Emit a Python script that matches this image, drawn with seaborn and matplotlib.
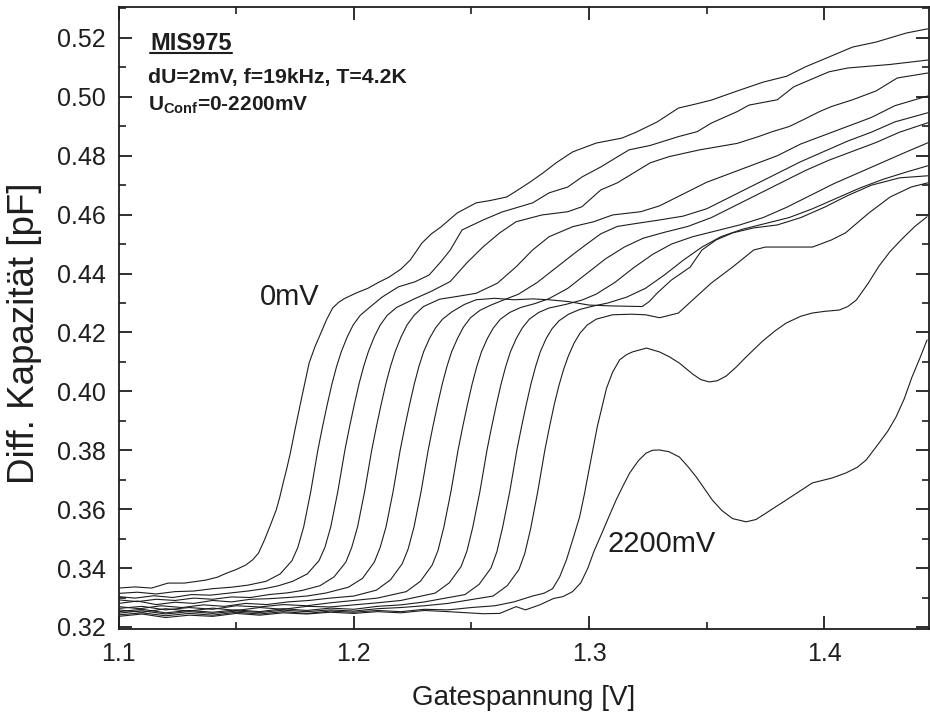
import matplotlib
matplotlib.use("Agg")
import matplotlib.pyplot as plt
import seaborn as sns
import pandas as pd
from matplotlib.lines import Line2D
from matplotlib.ticker import MultipleLocator

# ---------------- data ----------------
x_0mV = [1.100, 1.107, 1.114, 1.121, 1.128, 1.137, 1.142, 1.146, 1.150, 1.154, 1.157, 1.1595, 1.162,
         1.1645, 1.167, 1.1685, 1.170, 1.1715, 1.173, 1.175, 1.177, 1.179, 1.181, 1.1835, 1.186,
         1.1885, 1.191, 1.1935, 1.196, 1.201, 1.206, 1.210, 1.215, 1.220, 1.224, 1.229, 1.233, 1.237,
         1.244, 1.252, 1.258, 1.265, 1.270, 1.275, 1.281, 1.286, 1.293, 1.303, 1.314, 1.320, 1.329,
         1.338, 1.345, 1.352, 1.363, 1.374, 1.384, 1.392, 1.401, 1.412, 1.422, 1.435, 1.444]
y_0mV = [0.3332, 0.3336, 0.3332, 0.3349, 0.3349, 0.3359, 0.3369, 0.3383, 0.3395, 0.3410, 0.3428,
         0.3451, 0.3495, 0.3545, 0.3597, 0.3640, 0.3690, 0.3738, 0.3790, 0.3870, 0.3947, 0.4022,
         0.4096, 0.4152, 0.4198, 0.4245, 0.4283, 0.4302, 0.4315, 0.4334, 0.4350, 0.4368, 0.4388,
         0.4415, 0.4446, 0.4504, 0.4535, 0.4558, 0.4606, 0.4640, 0.4648, 0.4660, 0.4685, 0.4711,
         0.4745, 0.4776, 0.4813, 0.4843, 0.4860, 0.4880, 0.4915, 0.4962, 0.4975, 0.4989, 0.5020,
         0.5050, 0.5070, 0.5102, 0.5132, 0.5169, 0.5186, 0.5217, 0.5231]

x_200mV = [1.100, 1.108, 1.116, 1.124, 1.132, 1.140, 1.148, 1.155, 1.1627, 1.1687, 1.1737, 1.1762,
           1.1787, 1.1817, 1.1847, 1.1867, 1.1887, 1.1907, 1.1927, 1.1947, 1.1972, 1.1997, 1.2027,
           1.2067, 1.212, 1.219, 1.226, 1.232, 1.237, 1.241, 1.246, 1.255, 1.263, 1.276, 1.283,
           1.291, 1.297, 1.305, 1.312, 1.317, 1.326, 1.338, 1.346, 1.352, 1.363, 1.368, 1.380, 1.387,
           1.394, 1.402, 1.410, 1.428, 1.444]
y_200mV = [0.3314, 0.3318, 0.3312, 0.3320, 0.3322, 0.3330, 0.3335, 0.3342, 0.3355, 0.3380, 0.3425,
           0.3470, 0.3540, 0.3660, 0.3800, 0.3880, 0.3955, 0.4025, 0.4085, 0.4135, 0.4185, 0.4225,
           0.4258, 0.4285, 0.4320, 0.4355, 0.4372, 0.4395, 0.4440, 0.4480, 0.4548, 0.4582, 0.4609,
           0.4640, 0.4674, 0.4694, 0.4728, 0.4762, 0.4796, 0.4820, 0.4835, 0.4865, 0.4882, 0.4911,
           0.4950, 0.4972, 0.4990, 0.5034, 0.5058, 0.5085, 0.5098, 0.5110, 0.5125]

x_400mV = [1.100, 1.107, 1.115, 1.123, 1.131, 1.139, 1.147, 1.155, 1.162, 1.168, 1.174, 1.1802,
           1.1852, 1.1877, 1.1902, 1.1932, 1.1962, 1.1982, 1.2002, 1.2022, 1.2042, 1.2062, 1.2087,
           1.2112, 1.2142, 1.2182, 1.226, 1.233, 1.241, 1.248, 1.255, 1.262, 1.269, 1.280, 1.291,
           1.297, 1.305, 1.312, 1.319, 1.326, 1.334, 1.347, 1.355, 1.363, 1.372, 1.378, 1.385,
           1.391, 1.398, 1.403, 1.412, 1.422, 1.431, 1.444]
y_400mV = [0.3303, 0.3298, 0.3306, 0.3300, 0.3310, 0.3308, 0.3315, 0.3322, 0.3330, 0.3340, 0.3355,
           0.3380, 0.3425, 0.3470, 0.3540, 0.3660, 0.3800, 0.3880, 0.3955, 0.4025, 0.4085, 0.4135,
           0.4185, 0.4225, 0.4258, 0.4285, 0.4315, 0.4340, 0.4373, 0.4436, 0.4491, 0.4538, 0.4576,
           0.4599, 0.4610, 0.4627, 0.4684, 0.4708, 0.4742, 0.4776, 0.4797, 0.4820, 0.4831, 0.4842,
           0.4865, 0.4882, 0.4899, 0.4922, 0.4950, 0.4967, 0.4990, 0.5020, 0.5064, 0.5081]

x_600mV = [1.100, 1.108, 1.116, 1.124, 1.132, 1.140, 1.148, 1.156, 1.164, 1.172, 1.178, 1.1856,
           1.1916, 1.1966, 1.1991, 1.2016, 1.2046, 1.2076, 1.2096, 1.2116, 1.2136, 1.2156, 1.2176,
           1.2201, 1.2226, 1.2256, 1.2296, 1.2365, 1.2437, 1.252, 1.261, 1.269, 1.276, 1.283, 1.293,
           1.302, 1.310, 1.322, 1.330, 1.340, 1.350, 1.360, 1.370, 1.380, 1.390, 1.400, 1.410,
           1.420, 1.430, 1.444]
y_600mV = [0.3292, 0.3286, 0.3294, 0.3290, 0.3298, 0.3294, 0.3302, 0.3300, 0.3310, 0.3316, 0.3324,
           0.3340, 0.3370, 0.3420, 0.3470, 0.3540, 0.3660, 0.3800, 0.3880, 0.3955, 0.4025, 0.4085,
           0.4135, 0.4185, 0.4225, 0.4258, 0.4288, 0.4313, 0.4322, 0.4333, 0.4367, 0.4423, 0.4480,
           0.4525, 0.4559, 0.4576, 0.4599, 0.4610, 0.4630, 0.4670, 0.4710, 0.4740, 0.4770, 0.4800,
           0.4840, 0.4870, 0.4900, 0.4930, 0.4970, 0.5003]

x_800mV = [1.100, 1.108, 1.116, 1.124, 1.132, 1.140, 1.148, 1.156, 1.164, 1.172, 1.180, 1.188,
           1.1977, 1.2037, 1.2087, 1.2112, 1.2137, 1.2167, 1.2197, 1.2217, 1.2237, 1.2257, 1.2277,
           1.2297, 1.2322, 1.2347, 1.2377, 1.2417, 1.247, 1.252, 1.260, 1.268, 1.276, 1.283, 1.291,
           1.300, 1.310, 1.3226, 1.3256, 1.329, 1.335, 1.343, 1.348, 1.354, 1.361, 1.370, 1.380,
           1.390, 1.400, 1.410, 1.420, 1.432, 1.444]
y_800mV = [0.3280, 0.3288, 0.3276, 0.3284, 0.3280, 0.3290, 0.3285, 0.3294, 0.3296, 0.3300, 0.3305,
           0.3315, 0.3335, 0.3365, 0.3420, 0.3470, 0.3540, 0.3660, 0.3800, 0.3880, 0.3955, 0.4025,
           0.4085, 0.4135, 0.4180, 0.4215, 0.4245, 0.4270, 0.4295, 0.4311, 0.4316, 0.4311, 0.4314,
           0.4311, 0.4305, 0.4293, 0.4290, 0.4288, 0.4305, 0.4334, 0.4378, 0.4422, 0.4480, 0.4514,
           0.4538, 0.4555, 0.4565, 0.4590, 0.4625, 0.4665, 0.4700, 0.4725, 0.4732]

x_1000mV = [1.100, 1.109, 1.118, 1.127, 1.136, 1.145, 1.154, 1.163, 1.172, 1.181, 1.190, 1.200,
            1.2096, 1.2156, 1.2206, 1.2231, 1.2256, 1.2286, 1.2316, 1.2336, 1.2356, 1.2376, 1.2396,
            1.2416, 1.2441, 1.2466, 1.2496, 1.2536, 1.258, 1.262, 1.270, 1.278, 1.286, 1.294, 1.299,
            1.305, 1.312, 1.320, 1.330, 1.340, 1.350, 1.360, 1.370, 1.380, 1.390, 1.400, 1.410,
            1.420, 1.430, 1.444]
y_1000mV = [0.3269, 0.3262, 0.3272, 0.3266, 0.3275, 0.3270, 0.3280, 0.3276, 0.3285, 0.3290, 0.3298,
            0.3305, 0.3325, 0.3360, 0.3415, 0.3465, 0.3540, 0.3660, 0.3800, 0.3880, 0.3955, 0.4025,
            0.4085, 0.4135, 0.4180, 0.4218, 0.4250, 0.4275, 0.4292, 0.4305, 0.4330, 0.4370, 0.4420,
            0.4470, 0.4500, 0.4535, 0.4560, 0.4570, 0.4582, 0.4595, 0.4620, 0.4660, 0.4700, 0.4740,
            0.4780, 0.4815, 0.4850, 0.4880, 0.4915, 0.4946]

x_1200mV = [1.100, 1.110, 1.120, 1.130, 1.140, 1.150, 1.160, 1.170, 1.180, 1.190, 1.200, 1.210,
            1.2223, 1.2283, 1.2333, 1.2358, 1.2383, 1.2413, 1.2443, 1.2463, 1.2483, 1.2503, 1.2523,
            1.2543, 1.2568, 1.2593, 1.2623, 1.2663, 1.271, 1.277, 1.283, 1.291, 1.299, 1.307, 1.315,
            1.323, 1.332, 1.342, 1.352, 1.362, 1.372, 1.382, 1.392, 1.402, 1.412, 1.422, 1.432, 1.444]
y_1200mV = [0.3263, 0.3270, 0.3258, 0.3266, 0.3260, 0.3272, 0.3268, 0.3276, 0.3272, 0.3282, 0.3290,
            0.3298, 0.3320, 0.3355, 0.3410, 0.3460, 0.3540, 0.3660, 0.3800, 0.3880, 0.3955, 0.4025,
            0.4085, 0.4135, 0.4180, 0.4215, 0.4245, 0.4268, 0.4285, 0.4298, 0.4315, 0.4350, 0.4400,
            0.4450, 0.4490, 0.4520, 0.4540, 0.4560, 0.4590, 0.4630, 0.4670, 0.4710, 0.4750, 0.4785,
            0.4815, 0.4845, 0.4880, 0.4912]

x_1400mV = [1.100, 1.110, 1.120, 1.130, 1.140, 1.150, 1.160, 1.170, 1.180, 1.190, 1.200, 1.210,
            1.220, 1.2346, 1.2406, 1.2456, 1.2481, 1.2506, 1.2536, 1.2566, 1.2586, 1.2606, 1.2626,
            1.2646, 1.2666, 1.2691, 1.2716, 1.2746, 1.2786, 1.283, 1.290, 1.297, 1.303, 1.311, 1.319,
            1.327, 1.335, 1.344, 1.354, 1.364, 1.374, 1.384, 1.394, 1.404, 1.414, 1.424, 1.434, 1.444]
y_1400mV = [0.3258, 0.3250, 0.3262, 0.3254, 0.3264, 0.3256, 0.3266, 0.3260, 0.3270, 0.3268, 0.3275,
            0.3282, 0.3290, 0.3315, 0.3350, 0.3405, 0.3458, 0.3540, 0.3660, 0.3800, 0.3880, 0.3955,
            0.4025, 0.4085, 0.4135, 0.4180, 0.4215, 0.4245, 0.4268, 0.4283, 0.4295, 0.4310, 0.4330,
            0.4370, 0.4420, 0.4465, 0.4500, 0.4525, 0.4545, 0.4565, 0.4590, 0.4625, 0.4665, 0.4705,
            0.4740, 0.4775, 0.4810, 0.4844]

x_1600mV = [1.100, 1.110, 1.120, 1.130, 1.140, 1.150, 1.160, 1.170, 1.180, 1.190, 1.200, 1.210,
            1.220, 1.230, 1.2473, 1.2533, 1.2583, 1.2608, 1.2633, 1.2663, 1.2693, 1.2713, 1.2733,
            1.2753, 1.2773, 1.2793, 1.2818, 1.2843, 1.2873, 1.2913, 1.296, 1.302, 1.308, 1.316, 1.324,
            1.332, 1.340, 1.348, 1.356, 1.365, 1.375, 1.385, 1.395, 1.405, 1.415, 1.425, 1.435, 1.444]
y_1600mV = [0.3252, 0.3260, 0.3248, 0.3256, 0.3250, 0.3258, 0.3252, 0.3262, 0.3256, 0.3264, 0.3260,
            0.3270, 0.3275, 0.3285, 0.3310, 0.3345, 0.3400, 0.3455, 0.3540, 0.3660, 0.3800, 0.3880,
            0.3955, 0.4025, 0.4085, 0.4135, 0.4180, 0.4213, 0.4240, 0.4262, 0.4278, 0.4290, 0.4300,
            0.4320, 0.4350, 0.4395, 0.4445, 0.4490, 0.4525, 0.4550, 0.4570, 0.4590, 0.4620, 0.4655,
            0.4690, 0.4720, 0.4745, 0.4766]

x_1800mV = [1.100, 1.110, 1.120, 1.130, 1.140, 1.150, 1.160, 1.170, 1.180, 1.190, 1.200, 1.210,
            1.220, 1.230, 1.240, 1.2592, 1.2652, 1.2702, 1.2727, 1.2752, 1.2782, 1.2812, 1.2832,
            1.2852, 1.2872, 1.2892, 1.2912, 1.2937, 1.2962, 1.2992, 1.303, 1.310, 1.318, 1.324,
            1.330, 1.338, 1.344, 1.352, 1.361, 1.370, 1.375, 1.385, 1.395, 1.403, 1.409, 1.419,
            1.428, 1.437, 1.444]
y_1800mV = [0.3247, 0.3255, 0.3244, 0.3252, 0.3246, 0.3254, 0.3249, 0.3257, 0.3252, 0.3258, 0.3254,
            0.3262, 0.3266, 0.3272, 0.3280, 0.3305, 0.3340, 0.3395, 0.3450, 0.3535, 0.3660, 0.3800,
            0.3880, 0.3955, 0.4020, 0.4075, 0.4120, 0.4165, 0.4198, 0.4225, 0.4245, 0.4260, 0.4262,
            0.4260, 0.4250, 0.4266, 0.4310, 0.4368, 0.4422, 0.4480, 0.4490, 0.4490, 0.4490, 0.4514,
            0.4538, 0.4606, 0.4660, 0.4694, 0.4708]

x_2000mV = [1.100, 1.110, 1.120, 1.130, 1.140, 1.150, 1.160, 1.170, 1.180, 1.190, 1.200, 1.210,
            1.220, 1.230, 1.240, 1.250, 1.260, 1.268, 1.276, 1.281, 1.2845, 1.2875, 1.2904, 1.293,
            1.296, 1.298, 1.3002, 1.3035, 1.3074, 1.310, 1.313, 1.316, 1.3185, 1.3244, 1.3299, 1.334,
            1.3384, 1.344, 1.3475, 1.3511, 1.3545, 1.3583, 1.3625, 1.3668, 1.3737, 1.379, 1.3838,
            1.390, 1.3949, 1.4005, 1.4063, 1.410, 1.4136, 1.4185, 1.4233, 1.428, 1.4331, 1.4385,
            1.4437]
y_2000mV = [0.3241, 0.3248, 0.3238, 0.3246, 0.3240, 0.3250, 0.3244, 0.3252, 0.3246, 0.3254, 0.3250,
            0.3256, 0.3252, 0.3260, 0.3258, 0.3266, 0.3272, 0.3285, 0.3305, 0.3315, 0.3330, 0.3370,
            0.3428, 0.3495, 0.3574, 0.3650, 0.3743, 0.3880, 0.4010, 0.4065, 0.4107, 0.4125, 0.4134,
            0.4147, 0.4134, 0.4118, 0.4096, 0.4059, 0.4040, 0.4032, 0.4036, 0.4052, 0.4082, 0.4117,
            0.4170, 0.4205, 0.4232, 0.4255, 0.4266, 0.4272, 0.4276, 0.4288, 0.4310, 0.4365, 0.4426,
            0.4475, 0.4518, 0.4560, 0.4593]

x_2200mV = [1.100, 1.110, 1.120, 1.130, 1.140, 1.150, 1.160, 1.170, 1.180, 1.190, 1.200, 1.210,
            1.220, 1.230, 1.240, 1.255, 1.262, 1.269, 1.273, 1.279, 1.285, 1.2889, 1.2930, 1.2965,
            1.2995, 1.3020, 1.3058, 1.3090, 1.3115, 1.3145, 1.3172, 1.3210, 1.3242, 1.3270, 1.3299,
            1.3340, 1.3384, 1.3420, 1.3456, 1.3490, 1.3524, 1.3565, 1.3610, 1.3668, 1.3710, 1.3753,
            1.3838, 1.3949, 1.4034, 1.4092, 1.4140, 1.4178, 1.4233, 1.4270, 1.4305, 1.4340, 1.4373,
            1.4405, 1.4437]
y_2200mV = [0.3236, 0.3244, 0.3232, 0.3240, 0.3236, 0.3246, 0.3240, 0.3248, 0.3244, 0.3250, 0.3246,
            0.3252, 0.3248, 0.3256, 0.3252, 0.3245, 0.3246, 0.3269, 0.3258, 0.3275, 0.3297, 0.3303,
            0.3320, 0.3350, 0.3400, 0.3455, 0.3525, 0.3585, 0.3631, 0.3680, 0.3722, 0.3765, 0.3790,
            0.3800, 0.3801, 0.3795, 0.3777, 0.3745, 0.3709, 0.3670, 0.3631, 0.3595, 0.3568, 0.3557,
            0.3565, 0.3587, 0.3631, 0.3689, 0.3706, 0.3723, 0.3742, 0.3767, 0.3825, 0.3865, 0.3913,
            0.3975, 0.4049, 0.4110, 0.4175]

curve_names = ["0mV", "200mV", "400mV", "600mV", "800mV", "1000mV", "1200mV",
               "1400mV", "1600mV", "1800mV", "2000mV", "2200mV"]
curve_x = [x_0mV, x_200mV, x_400mV, x_600mV, x_800mV, x_1000mV, x_1200mV,
           x_1400mV, x_1600mV, x_1800mV, x_2000mV, x_2200mV]
curve_y = [y_0mV, y_200mV, y_400mV, y_600mV, y_800mV, y_1000mV, y_1200mV,
           y_1400mV, y_1600mV, y_1800mV, y_2000mV, y_2200mV]

x_ticks = [1.1, 1.2, 1.3, 1.4]
x_ticklabels = ["1.1", "1.2", "1.3", "1.4"]
y_ticks = [0.32, 0.34, 0.36, 0.38, 0.40, 0.42, 0.44, 0.46, 0.48, 0.50, 0.52]
y_ticklabels = ["0.32", "0.34", "0.36", "0.38", "0.40", "0.42", "0.44", "0.46", "0.48", "0.50", "0.52"]

# ---------------- long table ----------------
rows = []
for name, xs, ys in zip(curve_names, curve_x, curve_y):
    for i, (xv, yv) in enumerate(zip(xs, ys)):
        rows.append({"U_conf": name, "order": i, "Gate": xv, "C": yv})
df = pd.DataFrame(rows)

# ---------------- style ----------------
sns.set_style("ticks")
plt.rcParams["font.family"] = ["Liberation Sans", "DejaVu Sans"]
plt.rcParams["mathtext.fontset"] = "custom"
plt.rcParams["mathtext.rm"] = "Liberation Sans"
plt.rcParams["mathtext.bf"] = "Liberation Sans:bold"

INK = "#1e1e1e"
fig = plt.figure(figsize=(9.3, 7.17), dpi=100)
ax = fig.add_axes([0.1275, 0.1227, 0.8714, 0.8675])

sns.lineplot(data=df, x="Gate", y="C", units="U_conf", estimator=None, sort=False,
             color=INK, linewidth=0.8, ax=ax, legend=False)

ax.set_xlim(1.1, 1.4445)
ax.set_ylim(0.3193, 0.5305)
ax.set_xticks(x_ticks)
ax.set_xticklabels(x_ticklabels)
ax.set_yticks(y_ticks)
ax.set_yticklabels(y_ticklabels)
ax.xaxis.set_minor_locator(MultipleLocator(0.05))
ax.yaxis.set_minor_locator(MultipleLocator(0.01))
ax.tick_params(which="both", direction="in", top=True, right=True, colors=INK, labelcolor=INK)
ax.tick_params(which="major", length=9.5, width=1.3, labelsize=18, pad=9)
ax.tick_params(which="minor", length=5, width=1.2)
for sp in ax.spines.values():
    sp.set_linewidth(1.3)
    sp.set_color(INK)

ax.set_xlabel("Gatespannung [V]", fontsize=20, color=INK, labelpad=14)
ax.set_ylabel("Diff. Kapazität [pF]", fontsize=26.5, color=INK)
ax.yaxis.set_label_coords(-0.095, 0.475)

# ---------------- annotations ----------------
t1 = ax.text(1.1134, 0.5159, "MIS975", fontsize=17, fontweight="bold", color=INK,
             va="baseline", ha="left")
ax.text(1.1126, 0.5046, "dU=2mV, f=19kHz, T=4.2K", fontsize=15.3, fontweight="bold",
        color=INK, va="baseline", ha="left")
ax.text(1.1126, 0.4953, r"U$_{\mathbf{Conf}}$=0-2200mV", fontsize=15, fontweight="bold",
        color=INK, va="baseline", ha="left")
ax.text(1.1600, 0.4293, "0mV", fontsize=21, color=INK, va="baseline", ha="left")
ax.text(1.3078, 0.3455, "2200mV", fontsize=21, color=INK, va="baseline", ha="left")

# underline for MIS975
fig.canvas.draw()
bb = t1.get_window_extent(renderer=fig.canvas.get_renderer())
inv = fig.transFigure.inverted()
(x0, y0), (x1, _) = inv.transform([(bb.x0, bb.y0 + 2), (bb.x1, bb.y0 + 2)])
fig.add_artist(Line2D([x0, x1], [y0, y0], transform=fig.transFigure, color=INK, lw=1.5))

fig.savefig("out.png", dpi=100)
